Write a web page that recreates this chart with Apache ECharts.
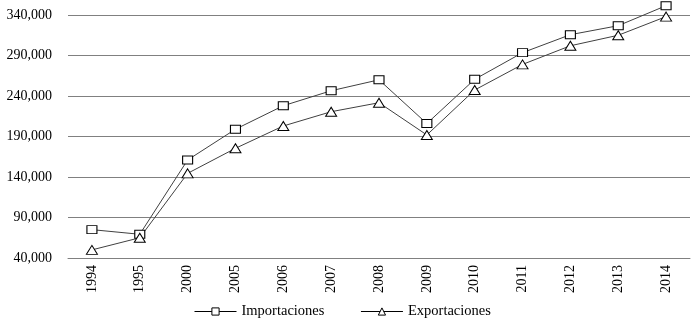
<!DOCTYPE html>
<html>
<head>
<meta charset="utf-8">
<script src="https://cdn.jsdelivr.net/npm/echarts@6/dist/echarts.min.js"></script>
<style>
  html, body { margin: 0; padding: 0; background: #fff; }
  #chart { width: 697px; height: 327px; }
</style>
</head>
<body>
<div id="chart"></div>
<script>
// años del eje x
const years = ["1994", "1995", "2000", "2005", "2006", "2007", "2008", "2009", "2010", "2011", "2012", "2013", "2014"];
const importaciones = [75000, 69300, 161000, 199000, 228000, 246500, 260000, 206000, 260600, 293500, 315700, 326800, 351500];
const exportaciones = [50000, 65000, 144500, 175400, 203000, 220600, 231700, 191900, 247400, 279000, 302000, 315000, 338000];
const yMin = 40000, yMax = 340000, yStep = 50000;

const chart = echarts.init(document.getElementById("chart"));
const font = "'Liberation Serif', 'Times New Roman', serif";

chart.setOption({
  animation: false,
  grid: { left: 68, right: 7, top: 15, bottom: 69 },
  legend: {
    bottom: 3,
    left: 189,
    itemWidth: 42,
    itemHeight: 9,
    itemGap: 36,
    lineStyle: { width: 1, color: "#000" },
    itemStyle: { borderWidth: 1, borderColor: "#000", color: "#fff" },
    textStyle: { fontFamily: font, fontSize: 14.5, color: "#000" },
    data: ["Importaciones", "Exportaciones"]
  },
  xAxis: {
    type: "category",
    data: years,
    boundaryGap: true,
    axisLine: { lineStyle: { color: "#808080", width: 1 } },
    axisTick: { show: false },
    axisLabel: { rotate: 90, margin: 7, fontFamily: font, fontSize: 14, color: "#000" }
  },
  yAxis: {
    type: "value",
    min: yMin,
    max: yMax,
    interval: yStep,
    axisLine: { show: false },
    axisTick: { show: false },
    splitLine: { lineStyle: { color: "#808080", width: 1 } },
    axisLabel: {
      margin: 16,
      fontFamily: font,
      fontSize: 14,
      color: "#000",
      formatter: v => v.toLocaleString("en-US")
    }
  },
  series: [
    {
      name: "Importaciones",
      type: "line",
      data: importaciones,
      clip: false,
      symbol: "rect",
      symbolSize: [10, 8],
      lineStyle: { color: "#404040", width: 1 },
      itemStyle: { color: "#fff", borderColor: "#000", borderWidth: 1 }
    },
    {
      name: "Exportaciones",
      type: "line",
      data: exportaciones,
      clip: false,
      symbol: "triangle",
      symbolSize: [11, 9],
      lineStyle: { color: "#404040", width: 1 },
      itemStyle: { color: "#fff", borderColor: "#000", borderWidth: 1 }
    }
  ]
});
</script>
</body>
</html>
